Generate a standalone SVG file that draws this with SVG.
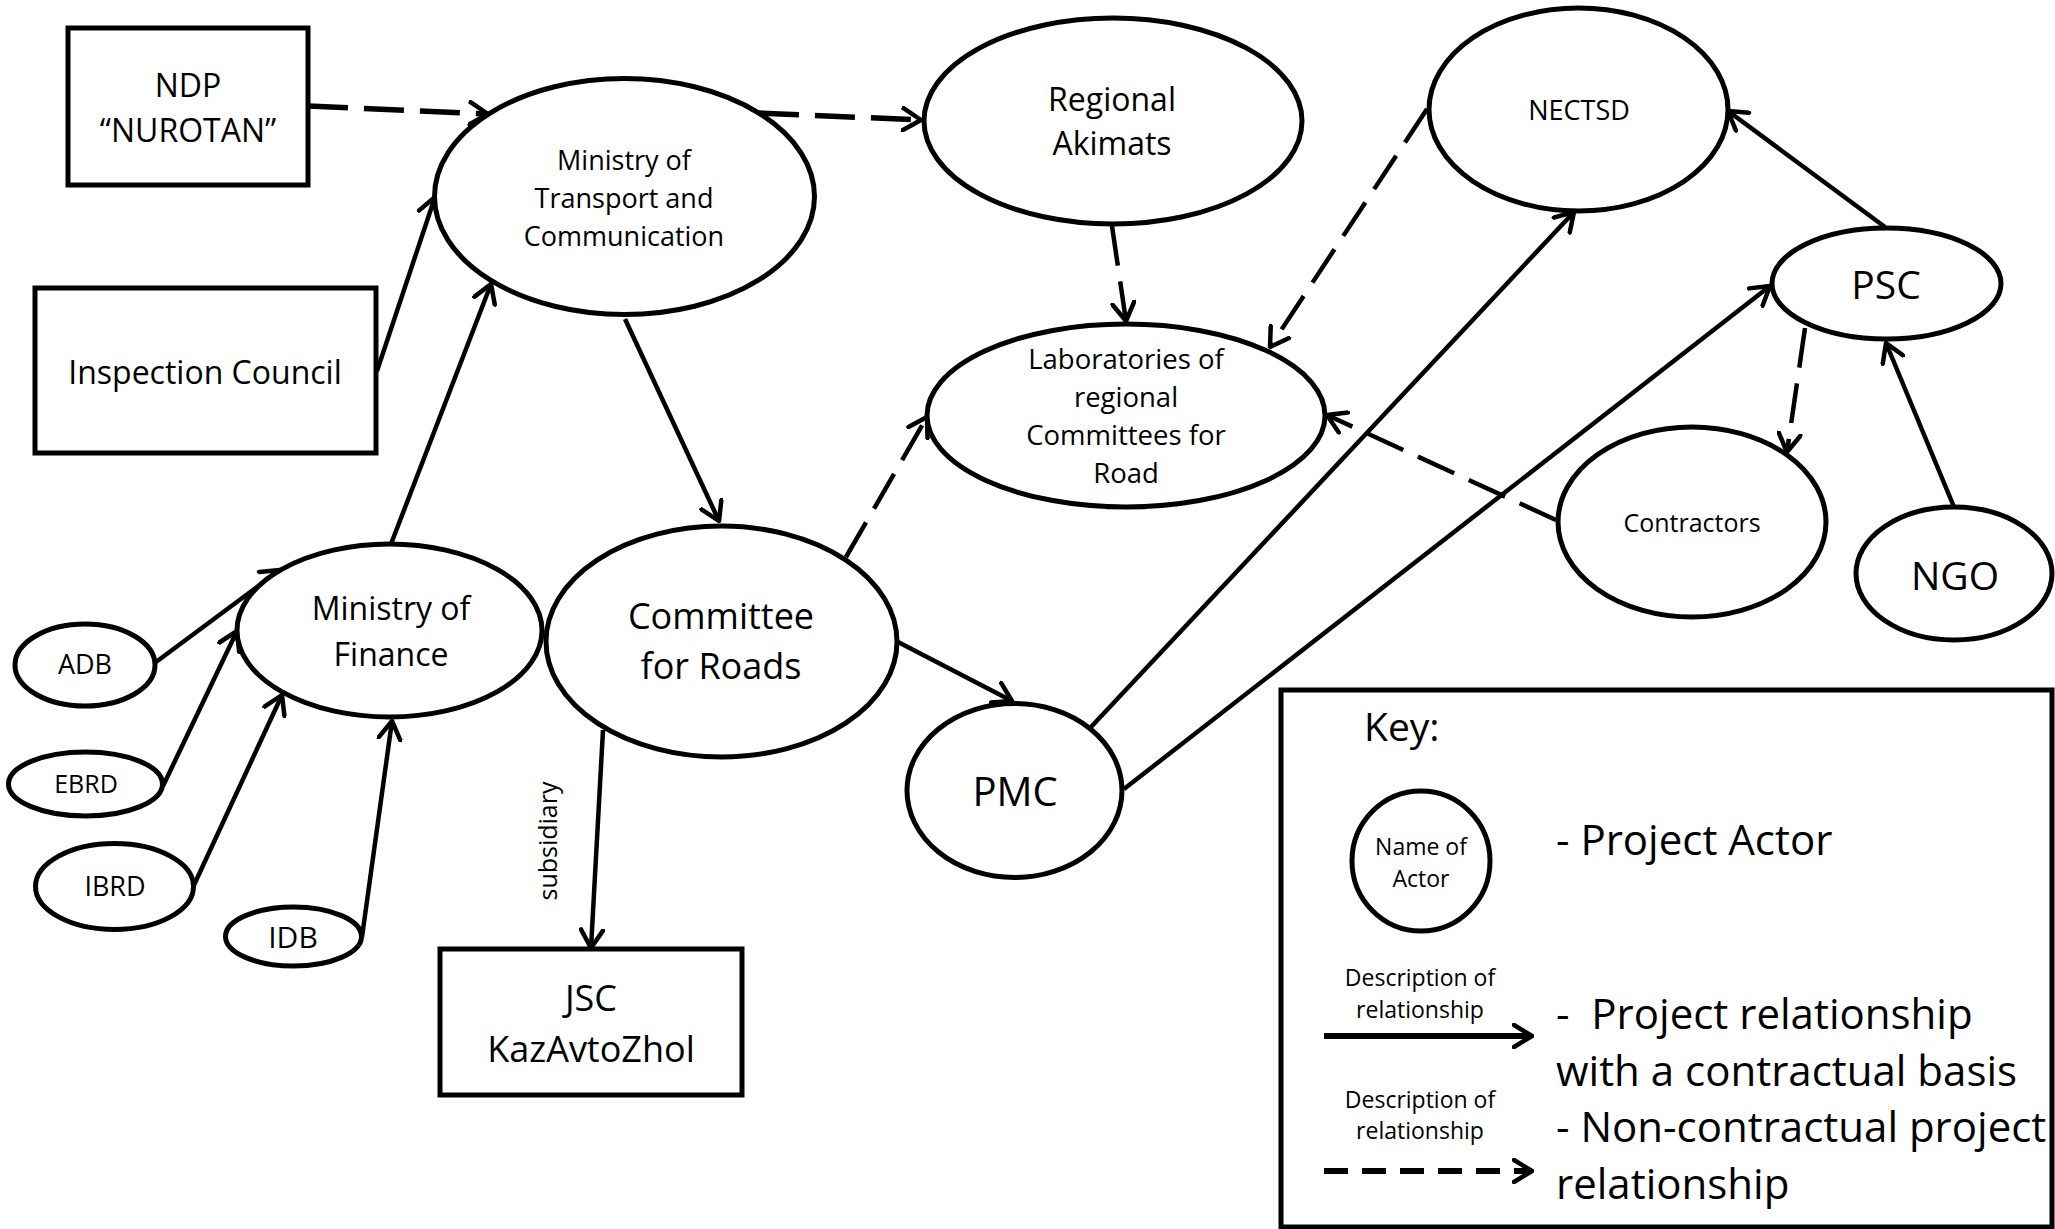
<svg xmlns="http://www.w3.org/2000/svg" width="2055" height="1229" viewBox="0 0 2055 1229">
<style>
text{font-family:"Open Sans","Liberation Sans",sans-serif;fill:#000;text-anchor:middle}
.n{fill:#fff;stroke:#000;stroke-width:5}
.c{fill:none;stroke:#000;stroke-width:4.5;marker-end:url(#ah)}
.d{stroke-dasharray:40 16}
.dt{stroke-width:5.5}
.lt{text-anchor:start}
</style>
<defs>
<marker id="ah" viewBox="0 0 22 26" refX="20" refY="13" markerWidth="22" markerHeight="26" markerUnits="userSpaceOnUse" orient="auto">
<path d="M2,2 L20,13 L2,24" fill="none" stroke="#000" stroke-width="4.5" stroke-linecap="round" stroke-linejoin="round"/>
</marker>
</defs>
<rect width="2055" height="1229" fill="#fff"/>
<g id="connectors">
<line class="c d dt" x1="308" y1="106" x2="488" y2="114"/>
<line class="c" x1="377" y1="371" x2="435" y2="197"/>
<line class="c" x1="391" y1="544" x2="491" y2="284"/>
<line class="c d dt" x1="759" y1="113" x2="921" y2="120"/>
<line class="c" x1="625" y1="319" x2="719" y2="521"/>
<line class="c d" x1="1112" y1="226" x2="1126" y2="321"/>
<line class="c d" x1="1427" y1="109" x2="1270" y2="347"/>
<line class="c d" x1="846" y1="557" x2="927" y2="417"/>
<line class="c d" x1="1556" y1="520" x2="1327" y2="415"/>
<line class="c" x1="1885" y1="227" x2="1728" y2="111"/>
<line class="c d" x1="1805" y1="328" x2="1787" y2="452"/>
<line class="c" x1="1954" y1="507" x2="1886" y2="343"/>
<line class="c" x1="1091" y1="727" x2="1574" y2="212"/>
<line class="c" x1="1124" y1="789" x2="1770" y2="286"/>
<line class="c" x1="898" y1="642" x2="1012" y2="701"/>
<line class="c" x1="156" y1="662" x2="280" y2="570"/>
<line class="c" x1="163" y1="786" x2="237" y2="631"/>
<line class="c" x1="194" y1="885" x2="282" y2="695"/>
<line class="c" x1="362" y1="937" x2="392" y2="721"/>
<line class="c" x1="603" y1="730" x2="591" y2="948"/>
<text transform="translate(557 841) rotate(-90)" font-size="25">subsidiary</text>
</g>
<g id="ndp">
<rect class="n" x="68" y="28" width="240" height="157" stroke-width="5.5"/>
<text x="188" y="97" font-size="32">NDP</text>
<text x="188" y="142" font-size="32">“NUROTAN”</text>
</g>
<g id="inspection-council">
<rect class="n" x="35" y="288" width="341" height="165" stroke-width="5.5"/>
<text x="205" y="384" font-size="32">Inspection Council</text>
</g>
<g id="motc">
<ellipse class="n" cx="624.5" cy="196.5" rx="190" ry="118"/>
<text x="624" y="170" font-size="27">Ministry of</text>
<text x="624" y="208" font-size="27">Transport and</text>
<text x="624" y="246" font-size="27">Communication</text>
</g>
<g id="regional-akimats">
<ellipse class="n" cx="1113" cy="121" rx="189" ry="103"/>
<text x="1112" y="111" font-size="32">Regional</text>
<text x="1112" y="155" font-size="32">Akimats</text>
</g>
<g id="laboratories">
<ellipse class="n" cx="1126" cy="415.5" rx="199" ry="91.5"/>
<text x="1126" y="369" font-size="27.5">Laboratories of</text>
<text x="1126" y="407" font-size="27.5">regional</text>
<text x="1126" y="445" font-size="27.5">Committees for</text>
<text x="1126" y="483" font-size="27.5">Road</text>
</g>
<g id="nectsd">
<ellipse class="n" cx="1578.5" cy="109.5" rx="149.5" ry="101.5"/>
<text x="1579" y="120" font-size="27">NECTSD</text>
</g>
<g id="psc">
<ellipse class="n" cx="1886.5" cy="283.5" rx="114.5" ry="55.5"/>
<text x="1886" y="299" font-size="39">PSC</text>
</g>
<g id="contractors">
<ellipse class="n" cx="1692" cy="522" rx="134" ry="95"/>
<text x="1692" y="532" font-size="25">Contractors</text>
</g>
<g id="ngo">
<ellipse class="n" cx="1954" cy="573.5" rx="98" ry="66.5"/>
<text x="1955" y="590" font-size="39">NGO</text>
</g>
<g id="mof">
<ellipse class="n" cx="389.5" cy="630.5" rx="152.5" ry="86.5"/>
<text x="391" y="620" font-size="32">Ministry of</text>
<text x="391" y="666" font-size="32">Finance</text>
</g>
<g id="committee-for-roads">
<ellipse class="n" cx="721.5" cy="641.5" rx="175.5" ry="115.5"/>
<text x="721" y="629" font-size="36">Committee</text>
<text x="721" y="679" font-size="36">for Roads</text>
</g>
<g id="pmc">
<ellipse class="n" cx="1014.5" cy="790.5" rx="107.5" ry="87"/>
<text x="1015" y="806" font-size="40">PMC</text>
</g>
<g id="adb">
<ellipse class="n" cx="85" cy="665" rx="70" ry="41"/>
<text x="85" y="674" font-size="27">ADB</text>
</g>
<g id="ebrd">
<ellipse class="n" cx="85.5" cy="784" rx="77" ry="32"/>
<text x="86" y="793" font-size="25">EBRD</text>
</g>
<g id="ibrd">
<ellipse class="n" cx="114.5" cy="886.5" rx="79" ry="43"/>
<text x="115" y="896" font-size="27">IBRD</text>
</g>
<g id="idb">
<ellipse class="n" cx="293.5" cy="936.5" rx="68" ry="29.5"/>
<text x="293" y="948" font-size="30">IDB</text>
</g>
<g id="jsc">
<rect class="n" x="440" y="949" width="302" height="146" stroke-width="5.5"/>
<text x="591" y="1011" font-size="36">JSC</text>
<text x="591" y="1062" font-size="36">KazAvtoZhol</text>
</g>
<g id="legend">
<rect x="1281" y="690" width="771" height="537" fill="none" stroke="#000" stroke-width="5"/>
<text class="lt" x="1364" y="741" font-size="39">Key:</text>
<ellipse class="n" cx="1421" cy="861" rx="69" ry="70"/>
<text x="1421" y="855" font-size="23">Name of</text>
<text x="1421" y="887" font-size="23">Actor</text>
<text class="lt" x="1556" y="855" font-size="42">- Project Actor</text>
<text x="1420" y="986" font-size="23">Description of</text>
<text x="1420" y="1018" font-size="23">relationship</text>
<line x1="1324" y1="1036" x2="1532" y2="1036" stroke="#000" stroke-width="6" marker-end="url(#ah)"/>
<text x="1420" y="1108" font-size="23">Description of</text>
<text x="1420" y="1139" font-size="23">relationship</text>
<line x1="1324" y1="1171" x2="1532" y2="1171" stroke="#000" stroke-width="6" stroke-dasharray="24 14" marker-end="url(#ah)"/>
<text class="lt" x="1556" y="1029" font-size="42" xml:space="preserve">-  Project relationship</text>
<text class="lt" x="1556" y="1086" font-size="42">with a contractual basis</text>
<text class="lt" x="1556" y="1142" font-size="42">- Non-contractual project</text>
<text class="lt" x="1556" y="1199" font-size="42">relationship</text>
</g>
</svg>
